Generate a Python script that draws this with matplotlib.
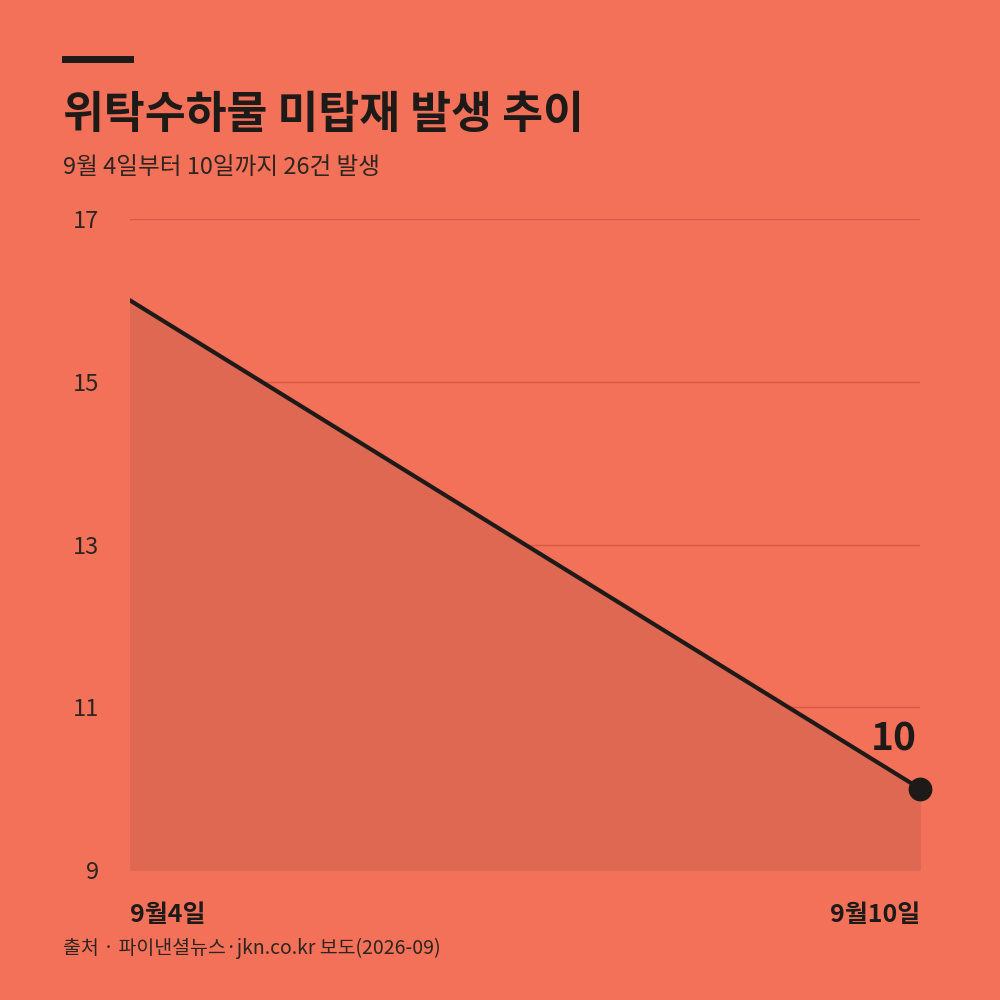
import matplotlib
matplotlib.use("Agg")
import matplotlib.pyplot as plt

plt.rcParams['font.family'] = ['Noto Sans CJK KR', 'DejaVu Sans']

dates = ["9월4일", "9월10일"]
values = [16, 10]
y_ticks = [9, 11, 13, 15, 17]

BG = "#F47159"
INK = "#1E1A18"

fig = plt.figure(figsize=(10, 10), dpi=100, facecolor=BG)
ax = fig.add_axes([0.13, 0.13, 0.79, 0.651])
ax.set_facecolor(BG)

x = list(range(len(values)))
ax.fill_between(x, 9, values, color="#DE6852", zorder=1)
ax.plot(x, values, color=INK, linewidth=3, zorder=3, solid_capstyle="round")
ax.scatter([x[-1]], [values[-1]], s=260, color=INK, zorder=4, clip_on=False)
ax.annotate(f"{values[-1]}", (x[-1], values[-1]), xytext=(-2, 22), textcoords="offset points",
            ha="right", va="bottom", fontsize=28, fontweight="bold", color=INK)

ax.set_ylim(9, 17)
ax.set_xlim(0, 1)
ax.set_yticks(y_ticks)
ax.set_yticklabels([str(t) for t in y_ticks], fontsize=17, color="#2E2420")
ax.grid(axis="y", color="#D65A45", linewidth=1)
ax.set_axisbelow(True)
ax.tick_params(axis="y", length=0, pad=22)
ax.set_xticks([])
for s in ax.spines.values():
    s.set_visible(False)

fig.text(0.13, 0.085, dates[0], ha="left", va="center", fontsize=18, fontweight="bold", color=INK)
fig.text(0.92, 0.085, dates[1], ha="right", va="center", fontsize=18, fontweight="bold", color=INK)

fig.add_artist(plt.Line2D([0.065, 0.13], [0.941, 0.941], color=INK, linewidth=5))
fig.text(0.063, 0.885, "위탁수하물 미탑재 발생 추이", ha="left", va="center",
         fontsize=32, fontweight="bold", color=INK)
fig.text(0.063, 0.832, "9월 4일부터 10일까지 26건 발생", ha="left", va="center",
         fontsize=17, color="#2E2420")
fig.text(0.063, 0.052, "출처 · 파이낸셜뉴스·jkn.co.kr 보도(2026-09)", ha="left", va="center",
         fontsize=14, color="#2E2420")

fig.savefig("out.png", dpi=100, facecolor=BG)
